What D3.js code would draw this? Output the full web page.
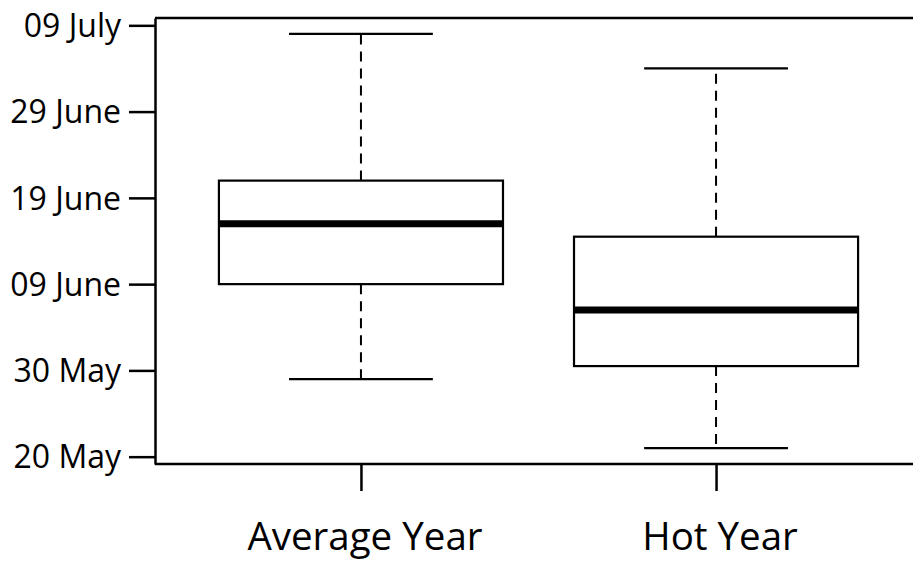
<!DOCTYPE html>
<html>
<head>
<meta charset="utf-8">
<script src="https://cdn.jsdelivr.net/npm/d3@7"></script>
<style>
  html, body { margin: 0; padding: 0; background: #fff; }
  svg { display: block; }
  text { font-family: "Open Sans", sans-serif; fill: #000; }
</style>
</head>
<body>
<svg id="chart" width="913" height="563"></svg>
<script>
// Days counted from 20 May
const categories = ["Average Year", "Hot Year"];
const whiskerLow = [9, 1];
const q1 = [20, 10.5];
const median = [27, 17];
const q3 = [32, 25.5];
const whiskerHigh = [49, 45];
const yTickValues = [0, 10, 20, 30, 40, 50];
const yTickLabels = ["20 May", "30 May", "09 June", "19 June", "29 June", "09 July"];

(function () {
const svg = d3.select("#chart");
const mLeft = 155, mRight = 922, mTop = 18, mBottom = 464;
const FONT = "'Open Sans', sans-serif";

const y = d3.scaleLinear().domain([-0.85, 50.85]).range([mBottom, mTop]);
const x = d3.scalePoint().domain(categories).range([mLeft, mRight]).padding(0.58);
const step = x.step();
const boxW = step * 0.8;
const capW = step * 0.405;

svg.append("line").attr("x1", mLeft).attr("x2", 913).attr("y1", mTop).attr("y2", mTop)
  .attr("stroke", "#000").attr("stroke-width", 2.5);

const yAxis = d3.axisLeft(y).tickValues(yTickValues)
  .tickFormat((d, i) => yTickLabels[i]).tickSize(26).tickSizeOuter(0).tickPadding(8);
const gy = svg.append("g").attr("transform", `translate(${mLeft},0)`).call(yAxis);
gy.attr("font-family", FONT);
gy.selectAll("path.domain").attr("stroke", "#000").attr("stroke-width", 2.5);
gy.selectAll(".tick line").attr("stroke", "#000").attr("stroke-width", 2.5);
gy.selectAll(".tick text").attr("font-size", 32).attr("dy", "0.35em").attr("fill", "#000");

const xAxis = d3.axisBottom(x).tickSize(27).tickSizeOuter(0).tickFormat("");
const gx = svg.append("g").attr("transform", `translate(0,${mBottom})`).call(xAxis);
gx.select("path.domain").remove();
gx.selectAll(".tick line").attr("stroke", "#000").attr("stroke-width", 2.5);
svg.append("line").attr("x1", mLeft).attr("x2", 913).attr("y1", mBottom).attr("y2", mBottom)
  .attr("stroke", "#000").attr("stroke-width", 2.5);

svg.selectAll("text.xlab").data(categories).enter().append("text")
  .attr("class", "xlab")
  .attr("x", d => x(d) + 4)
  .attr("y", 550)
  .attr("text-anchor", "middle")
  .attr("font-size", 38.5)
  .text(d => d);

const g = svg.append("g");
categories.forEach((c, i) => {
  const cx = x(c);
  g.append("line").attr("x1", cx).attr("x2", cx).attr("y1", y(q3[i])).attr("y2", y(whiskerHigh[i]))
    .attr("stroke", "#000").attr("stroke-width", 2).attr("stroke-dasharray", "10,7");
  g.append("line").attr("x1", cx).attr("x2", cx).attr("y1", y(q1[i])).attr("y2", y(whiskerLow[i]))
    .attr("stroke", "#000").attr("stroke-width", 2).attr("stroke-dasharray", "10,7");
  [whiskerHigh[i], whiskerLow[i]].forEach(v => {
    g.append("line").attr("x1", cx - capW / 2).attr("x2", cx + capW / 2)
      .attr("y1", y(v)).attr("y2", y(v)).attr("stroke", "#000").attr("stroke-width", 2.2);
  });
  g.append("rect").attr("x", cx - boxW / 2).attr("width", boxW)
    .attr("y", y(q3[i])).attr("height", y(q1[i]) - y(q3[i]))
    .attr("fill", "#fff").attr("stroke", "#000").attr("stroke-width", 2.2);
  g.append("line").attr("x1", cx - boxW / 2).attr("x2", cx + boxW / 2)
    .attr("y1", y(median[i])).attr("y2", y(median[i]))
    .attr("stroke", "#000").attr("stroke-width", 7);
});
})();
</script>
</body>
</html>
